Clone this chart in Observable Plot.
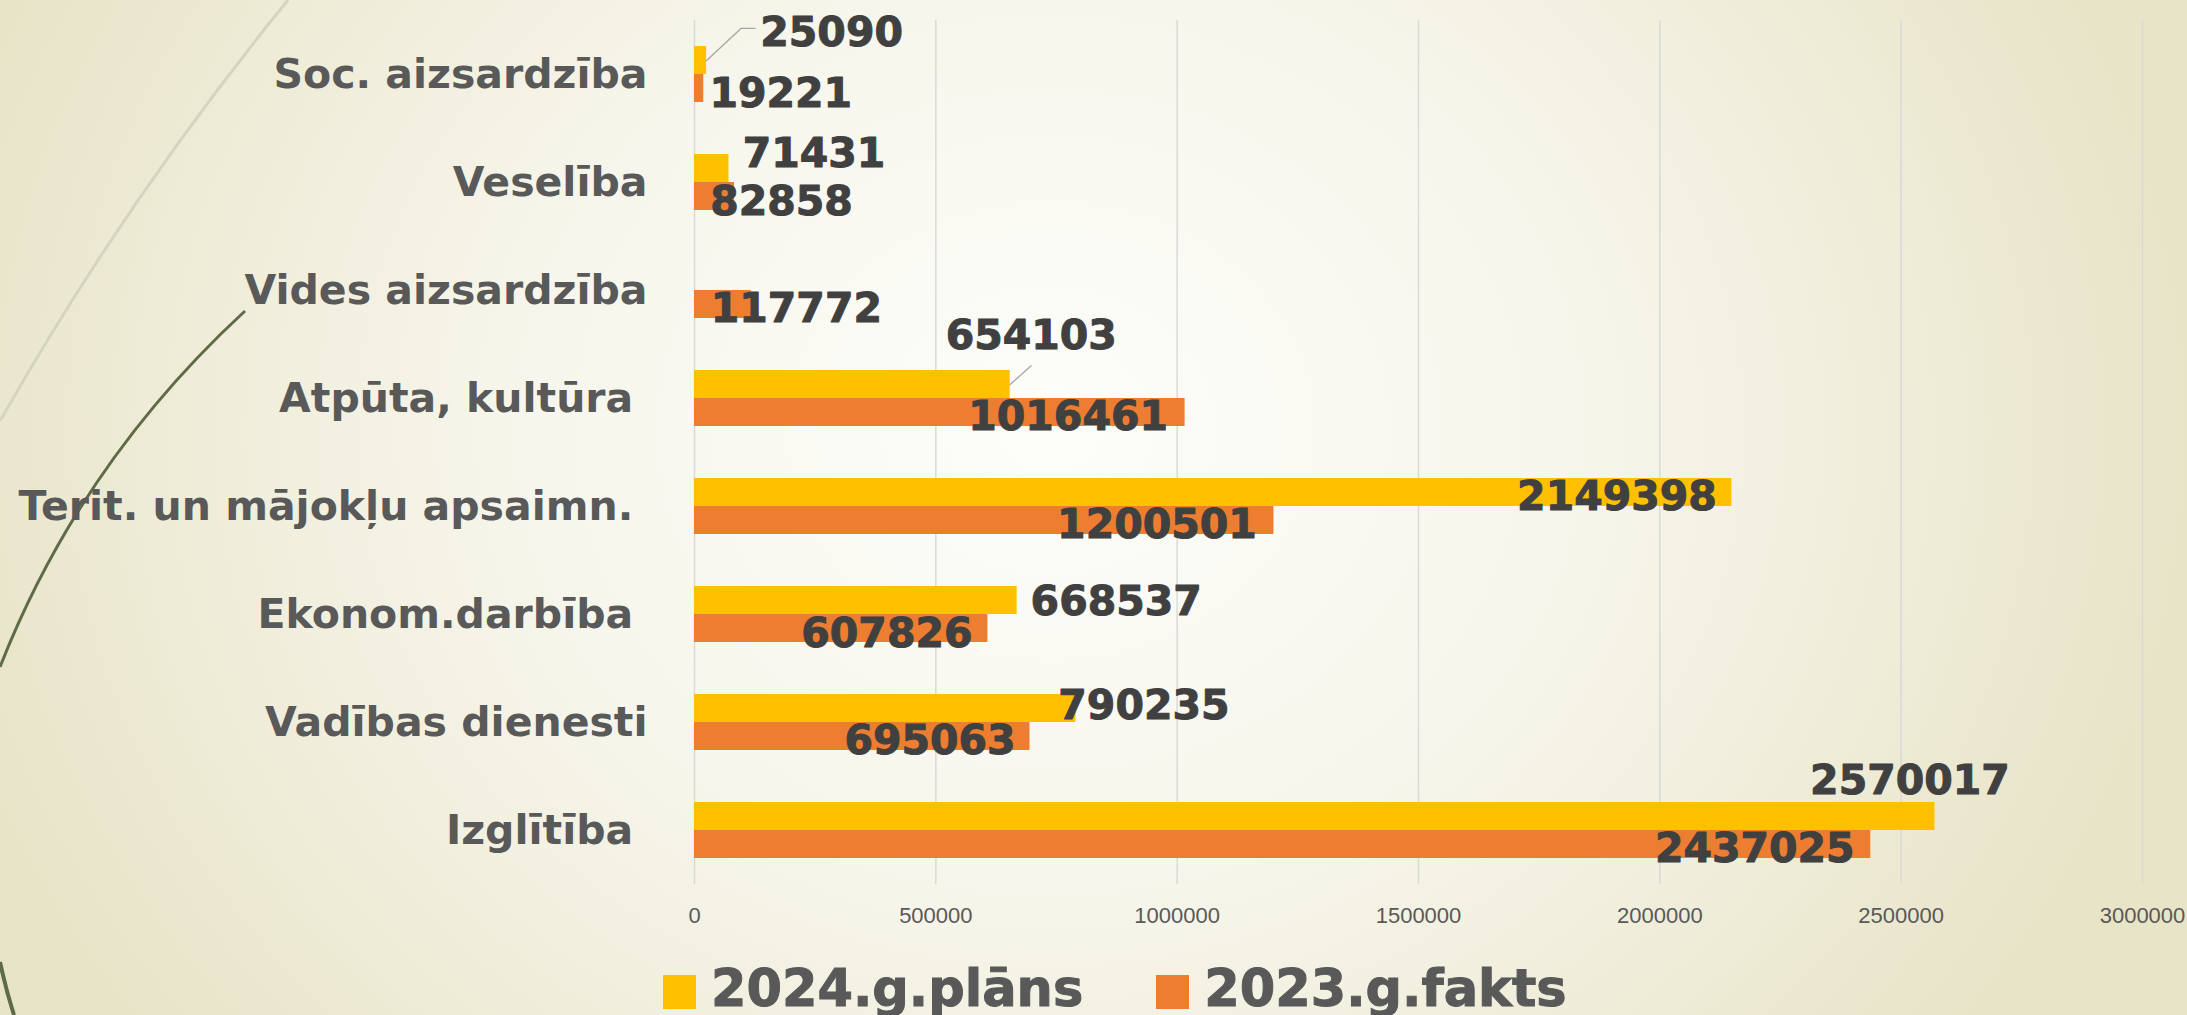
<!DOCTYPE html>
<html>
<head>
<meta charset="utf-8">
<script src="https://cdn.jsdelivr.net/npm/d3@7"></script>
<script src="https://cdn.jsdelivr.net/npm/@observablehq/plot@0.6"></script>
<style>
  html, body { margin: 0; padding: 0; }
  body {
    width: 2187px; height: 1015px; overflow: hidden; position: relative;
    background: radial-gradient(ellipse 1150px 1000px at 1050px 430px, #fdfdfa 0%, #f7f6ec 45%, #e8e4c8 100%);
    font-family: "DejaVu Sans", sans-serif;
  }
  #deco { position: absolute; left: 0; top: 0; z-index: 0; }
  #chart { position: relative; z-index: 1; }
  #legend { position: relative; z-index: 1; display: flex; align-items: flex-start; margin-top: 18px; padding-left: 663px; }
  .item { display: flex; align-items: flex-start; margin-right: 73px; }
  .sw { width: 33px; height: 34px; margin-top: 12px; margin-right: 15px; }
  .lt { font-family: "DejaVu Sans"; font-weight: 700; font-size: 51px; line-height: 51px; color: #595959; white-space: nowrap; -webkit-text-stroke: 1px #595959; }
</style>
</head>
<body>
<svg id="deco" width="2187" height="1015">
  <path d="M288,0 Q126,199 0,421" fill="none" stroke="#d4d5c1" stroke-width="3"/>
  <path d="M245,311 Q80,463 0,667" fill="none" stroke="#5f6b47" stroke-width="3"/>
  <path d="M0,962 Q6,990 14,1015" fill="none" stroke="#5f6b47" stroke-width="4"/>
</svg>
<div id="chart"></div>
<div id="legend"></div>
<script>
// ---- data ----
const categories = [
  "Soc. aizsardzība",
  "Veselība",
  "Vides aizsardzība",
  "Atpūta, kultūra\u00a0",
  "Terit. un mājokļu apsaimn.\u00a0",
  "Ekonom.darbība\u00a0",
  "Vadības dienesti",
  "Izglītība\u00a0"
];
const plan2024  = [25090, 71431, null, 654103, 2149398, 668537, 790235, 2570017];
const fakts2023 = [19221, 82858, 117772, 1016461, 1200501, 607826, 695063, 2437025];
const seriesNames  = ["2024.g.plāns", "2023.g.fakts"];
const seriesColors = ["#ffc000", "#ed7d31"];
const xTicks = [0, 500000, 1000000, 1500000, 2000000, 2500000, 3000000];

// ---- label placement nudges (pixels, style only) ----
const planLabelNudge  = [[125,-28],[85,-15],null,[21,-49],[-115,4],[99,1],[68,-3],[-25,-36]];
const faktsLabelNudge = [[77,5],[47,5],[45,4],[-117,4],[-117,4],[-101,5],[-100,4],[-116,4]];
// leader lines for moved labels: [category index, length px, angle deg, tail px]
const leaders = [[0, 47, 47, 14], [3, 28, 48, 0]];

const rows = categories.flatMap((c, i) => [
  {cat: c, series: seriesNames[0], value: plan2024[i], nudge: planLabelNudge[i]},
  {cat: c, series: seriesNames[1], value: fakts2023[i], nudge: faktsLabelNudge[i]}
]);
const valid = rows.filter(d => d.value != null);

function leaderShape(tail, angle) {
  const t = angle * Math.PI / 180;
  return {
    draw(context, l) {
      context.moveTo(0, 0);
      context.lineTo(0, -l);
      if (tail > 0) context.lineTo(tail * Math.cos(t), -l - tail * Math.sin(t));
    }
  };
}

const labelMarks = valid.map(d => Plot.text([d], {
  fy: "cat", y: "series", x: "value",
  text: r => String(r.value),
  dx: d.nudge[0], dy: d.nudge[1],
  fontSize: 41, fontWeight: 700, fontFamily: "DejaVu Sans",
  fill: "#404040", stroke: "#404040", strokeWidth: 1, textAnchor: "middle"
}));

const leaderMarks = leaders.map(([ci, len, ang, tail]) => Plot.vector(
  [rows[ci * 2]], {
    fy: "cat", y: "series", x: "value",
    length: len, rotate: ang, anchor: "start",
    shape: leaderShape(tail, ang),
    stroke: "#a6a6a6", strokeWidth: 1.3, fill: "none"
  }));

const chart = Plot.plot({
  width: 2187,
  height: 945,
  marginLeft: 694,
  marginRight: 45,
  marginTop: 20,
  marginBottom: 61,
  style: {background: "transparent", color: "#595959", fontFamily: "DejaVu Sans", overflow: "visible"},
  x: {domain: [0, 3000000], axis: null},
  y: {domain: seriesNames, paddingInner: 0, paddingOuter: 0.9, axis: null},
  fy: {domain: categories, padding: 0, axis: null},
  color: {domain: seriesNames, range: seriesColors},
  marks: [
    Plot.gridX(xTicks, {stroke: "#d9d9d9", strokeOpacity: 1, strokeWidth: 1.5}),
    Plot.barX(valid, {fy: "cat", y: "series", x: "value", fill: "series"}),
    ...leaderMarks,
    ...labelMarks,
    Plot.axisX({ticks: xTicks, tickFormat: d => String(d), tickSize: 0, tickPadding: 23,
                fontSize: 22, fontFamily: "Liberation Sans", fontWeight: 400, label: null, fill: "#595959"}),
    Plot.axisFy({anchor: "left", tickSize: 0, tickPadding: 47, fontSize: 41, fontWeight: 700,
                 fontFamily: "DejaVu Sans", label: null, fill: "#595959", stroke: "#595959", strokeWidth: 1})
  ]
});
document.getElementById("chart").appendChild(chart);

const legend = document.getElementById("legend");
seriesNames.forEach((name, i) => {
  const item = document.createElement("div");
  item.className = "item";
  const sw = document.createElement("div");
  sw.className = "sw";
  sw.style.background = seriesColors[i];
  const lt = document.createElement("div");
  lt.className = "lt";
  lt.textContent = name;
  item.appendChild(sw);
  item.appendChild(lt);
  legend.appendChild(item);
});
</script>
</body>
</html>
